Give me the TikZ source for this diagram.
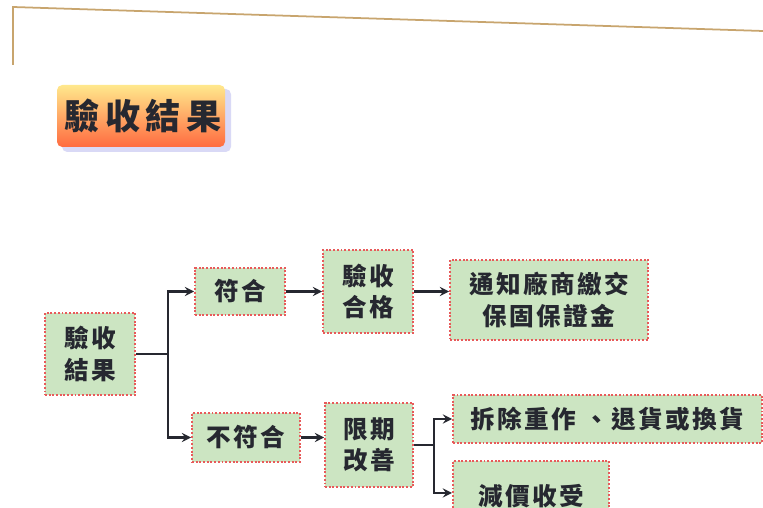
\documentclass[tikz,border=0pt]{standalone}
\usepackage{fontspec}
\usepackage{xcolor}
\newfontfamily\cjk[LetterSpace=10]{Noto Sans CJK TC}
\newfontfamily\cjktitle[LetterSpace=16]{Noto Sans CJK TC}
\definecolor{boxgreen}{RGB}{204,229,194}
\definecolor{boxred}{RGB}{232,90,90}
\definecolor{inkdark}{RGB}{38,40,48}
\definecolor{rule}{RGB}{200,165,110}
\usetikzlibrary{calc}
\begin{document}
\begin{tikzpicture}[
  box/.style={draw=boxred,densely dotted,line width=1.1pt,fill=boxgreen,text=inkdark,align=center,inner sep=0pt,font=\cjk\bfseries\fontsize{14}{18}\selectfont},
  link/.style={draw=inkdark,line width=1.3pt,-stealth},
  wire/.style={draw=inkdark,line width=1.3pt}]
\clip (0,0) rectangle (15.26,10.16);
\fill[white] (0,0) rectangle (15.26,10.16);
\draw[rule,line width=1pt](0.26,8.86)--(0.26,10.02)--(15.26,9.54);
% title
\fill[black!25!blue!15,rounded corners=3pt](1.24,7.12) rectangle (4.62,8.38);
\shade[top color=yellow!60!orange!45,bottom color=red!55!orange!75,rounded corners=3pt](1.14,7.22) rectangle (4.50,8.46);
\node[text=inkdark,font=\cjktitle\bfseries\fontsize{20}{22}\selectfont] (title) at (2.86,7.84) {驗收結果};
% boxes
\node[box,minimum width=1.8cm,minimum height=1.64cm] (res) at (1.80,3.08) {驗收\\結果};
\node[box,minimum width=1.8cm,minimum height=0.94cm] (ok) at (4.80,4.33) {符合};
\node[box,minimum width=1.8cm,minimum height=1.66cm] (pass) at (7.36,4.33) {驗收\\合格};
\node[box,minimum width=3.96cm,minimum height=1.6cm] (notice) at (10.98,4.16) {通知廠商繳交\\保固保證金};
\node[box,minimum width=2.16cm,minimum height=0.98cm] (nok) at (4.92,1.41) {不符合};
\node[box,minimum width=1.76cm,minimum height=1.68cm] (fix) at (7.38,1.26) {限期\\改善};
\node[box,minimum width=6.18cm,minimum height=0.96cm] (redo) at (12.15,1.78) {拆除重作 、退貨或換貨};
\node[box,minimum width=3.12cm,minimum height=1.2cm,anchor=north west,text height=0.9cm,text depth=0.3cm] (cut) at (9.04,0.96) {減價收受};
% links
\draw[wire](res.east)--++(0.64,0)coordinate(j1);
\draw[link](j1)|-(ok.west);
\draw[link](j1)|-(nok.west);
\draw[link](ok.east)--(ok.east-|pass.west);
\draw[link](pass.east)--(pass.east-|notice.west);
\draw[link](nok.east)--(nok.east-|fix.west);
\draw[wire](fix.east)--++(0.4,0)coordinate(j2);
\draw[link](j2)|-(redo.west);
\draw[link](j2)|-($(cut.north west)+(0,-0.66)$);
\end{tikzpicture}
\end{document}
